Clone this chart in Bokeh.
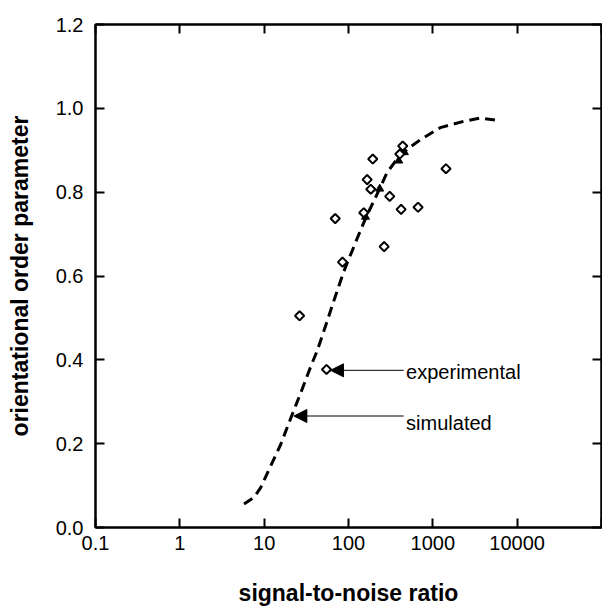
import math
from bokeh.plotting import figure
from bokeh.models import (LogAxis, LinearAxis, FixedTicker, PrintfTickFormatter,
                          Arrow, NormalHead, Label, ColumnDataSource, Range1d)
from bokeh.embed import file_html
from bokeh.resources import INLINE

# ---- data ----
exp_snr = [26.3, 54.9, 84.9, 69.6, 151.7, 166.4, 183.6, 194, 308, 264.6,
           420.6, 668, 439.5, 406, 1432]
exp_order = [0.505, 0.377, 0.633, 0.737, 0.751, 0.830, 0.807, 0.879, 0.790,
             0.670, 0.759, 0.764, 0.910, 0.891, 0.856]

sim_snr = [5.77, 7.57, 9.09, 11.9, 15.7, 20.6, 27.0, 35.5, 42.6, 56.0, 70.2,
           88, 127, 159, 219, 287, 377, 495, 711, 1227, 2316, 3648, 5495]
sim_order = [0.056, 0.072, 0.095, 0.146, 0.198, 0.260, 0.320, 0.383, 0.422,
             0.493, 0.553, 0.611, 0.690, 0.737, 0.796, 0.847, 0.879, 0.902,
             0.925, 0.954, 0.969, 0.977, 0.972]

tri_snr = [159, 234.5, 394, 460]
tri_order = [0.741, 0.808, 0.875, 0.895]

x_ticks = [0.1, 1, 10, 100, 1000, 10000, 100000]
x_tick_labels = ["0.1", "1", "10", "100", "1000", "10000", ""]
y_ticks = [0.0, 0.2, 0.4, 0.6, 0.8, 1.0, 1.2]

# annotations: arrow tail x, arrow tip x, y, label x, label y
ann_texts = ["experimental", "simulated"]
ann_tail_x = [451, 451]
ann_tip_x = [61.2, 22.5]
ann_y = [0.375, 0.266]
ann_text_x = [482, 482]
ann_text_y = [0.371, 0.249]

FONT = "Liberation Sans"

p = figure(width=602, height=608, x_axis_type="log",
           x_range=Range1d(0.1, 100000), y_range=Range1d(0, 1.2),
           output_backend="svg", toolbar_location=None,
           min_border_left=95, min_border_right=1, min_border_top=24,
           min_border_bottom=76)
p.background_fill_color = "white"
p.border_fill_color = "white"
p.outline_line_color = "black"
p.outline_line_width = 2
p.xgrid.visible = False
p.ygrid.visible = False

xa = p.xaxis[0]
xa.ticker = FixedTicker(ticks=x_ticks)
xa.major_label_overrides = {t: l for t, l in zip(x_ticks, x_tick_labels)}
xa.major_label_text_align = "left"
xa.axis_label = "signal-to-noise ratio"

ya = p.yaxis[0]
ya.ticker = FixedTicker(ticks=y_ticks)
ya.formatter = PrintfTickFormatter(format="%.1f")
ya.axis_label = "orientational order parameter"

for ax in (xa, ya):
    ax.axis_line_width = 2
    ax.major_tick_line_width = 2
    ax.major_tick_in = 9
    ax.major_tick_out = 0
    ax.minor_tick_line_color = None
    ax.major_label_text_font = FONT
    ax.major_label_text_font_size = "20px"
    ax.major_label_text_color = "black"
    ax.axis_label_text_font = FONT
    ax.axis_label_text_font_size = "23px"
    ax.axis_label_text_font_style = "bold"
    ax.axis_label_text_color = "black"

xa.major_label_standoff = 8
xa.axis_label_standoff = 27
ya.major_label_standoff = 12
ya.axis_label_standoff = 20

top = LogAxis(ticker=FixedTicker(ticks=x_ticks))
right = LinearAxis(ticker=FixedTicker(ticks=y_ticks))
for ax in (top, right):
    ax.axis_line_width = 2
    ax.major_tick_line_width = 2
    ax.major_tick_in = 9
    ax.major_tick_out = 0
    ax.minor_tick_line_color = None
    ax.major_label_text_font_size = "1px"
    ax.major_label_text_color = None
    ax.major_label_standoff = 0
p.add_layout(top, "above")
p.add_layout(right, "right")

sim_src = ColumnDataSource(dict(x=sim_snr, y=sim_order))
p.line("x", "y", source=sim_src, line_color="black", line_width=3,
       line_dash="10 6")

tri_src = ColumnDataSource(dict(x=tri_snr, y=tri_order))
p.scatter("x", "y", source=tri_src, marker="triangle", size=8,
          fill_color="black", line_color="black")

exp_src = ColumnDataSource(dict(x=exp_snr, y=exp_order))
p.scatter("x", "y", source=exp_src, marker="square", size=6.5,
          angle=math.pi / 4, fill_color="white", line_color="black",
          line_width=2)

for txt, x0, x1, yy, tx, ty in zip(ann_texts, ann_tail_x, ann_tip_x, ann_y,
                                   ann_text_x, ann_text_y):
    p.add_layout(Arrow(end=NormalHead(size=13, fill_color="black",
                                      line_color="black", line_width=1),
                       x_start=x0, y_start=yy, x_end=x1, y_end=yy,
                       line_color="black", line_width=1))
    p.add_layout(Label(x=tx, y=ty, text=txt, text_font=FONT,
                       text_font_size="20px", text_baseline="middle",
                       text_align="left", text_color="black"))

open("out.html", "w").write(file_html(p, INLINE))
